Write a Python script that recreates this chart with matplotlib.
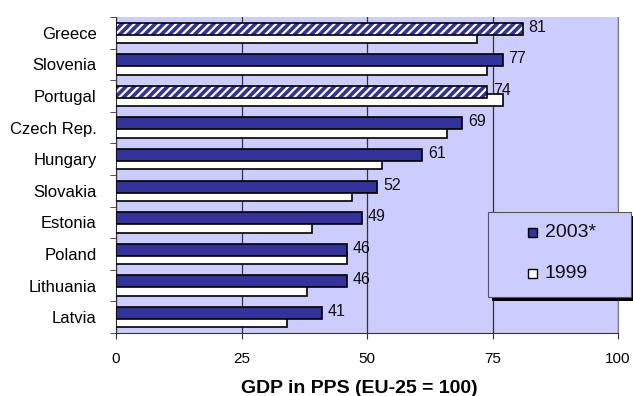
import matplotlib
matplotlib.use("Agg")
import matplotlib.pyplot as plt
from matplotlib.patches import Rectangle
import numpy as np

plt.rcParams['font.family'] = ['Liberation Sans', 'DejaVu Sans']
plt.rcParams['hatch.linewidth'] = 1.6

countries = ["Greece", "Slovenia", "Portugal", "Czech Rep.", "Hungary",
             "Slovakia", "Estonia", "Poland", "Lithuania", "Latvia"]
gdp_2003 = [81, 77, 74, 69, 61, 52, 49, 46, 46, 41]
gdp_1999 = [72, 74, 77, 66, 53, 47, 39, 46, 38, 34]
series_names = ["2003*", "1999"]
hatched = ["Greece", "Portugal"]
x_ticks = [0, 25, 50, 75, 100]

navy = "#333399"
lavender = "#CCCCFF"
W, H = 633, 396

fig = plt.figure(figsize=(W / 100, H / 100), dpi=100)
ax = fig.add_axes([116 / W, 1 - 333 / H, 502 / W, 316 / H])
ax.set_facecolor(lavender)

n = len(countries)
pos = np.arange(n)[::-1].astype(float)
bar_h = 0.38
shift = 0.13

ax.barh(pos - shift, gdp_1999, height=bar_h, color="white",
        edgecolor="black", linewidth=1.2, zorder=3)
for y, v, c in zip(pos, gdp_2003, countries):
    if c in hatched:
        ax.barh(y + shift, v, height=bar_h, color=navy, edgecolor="white",
                hatch="////", linewidth=0, zorder=4)
        ax.barh(y + shift, v, height=bar_h, fill=False, edgecolor="black",
                linewidth=1.2, zorder=5)
    else:
        ax.barh(y + shift, v, height=bar_h, color=navy, edgecolor="black",
                linewidth=1.2, zorder=4)
    ax.text(v + 1.2, y + shift + 0.05, str(v), va="center", ha="left",
            fontsize=11.5, color="#111111", zorder=6)

ax.set_xlim(0, 100)
ax.set_ylim(-0.5, n - 0.5)
ax.set_xticks(x_ticks)
ax.set_xticklabels([str(t) for t in x_ticks], fontsize=11)
ax.set_yticks(pos)
ax.set_yticklabels(countries, fontsize=12)
ax.tick_params(axis="y", length=0, pad=14)
ax.set_yticks(np.arange(-0.5, n, 1.0), minor=True)
ax.tick_params(axis="y", which="minor", length=4, direction="out", color="#333333")
ax.tick_params(axis="x", length=4, direction="out", color="#333333", pad=10)

ax.xaxis.grid(True, color="#333333", linewidth=0.9, zorder=1)
ax.set_axisbelow(True)
ax.spines["top"].set_visible(False)
ax.spines["right"].set_color("#777777")
ax.spines["left"].set_color("#333333")
ax.spines["bottom"].set_color("#333333")

ax.set_xlabel("GDP in PPS (EU-25 = 100)", fontsize=14, fontweight="bold")
ax.xaxis.set_label_coords(0.484, -0.148)


def fx(px):
    return px / W


def fy(py):
    return 1 - py / H


# legend box with a solid drop shadow
lx0, lx1, ly0, ly1 = 488, 631, 212, 297
fig.add_artist(Rectangle((fx(lx0 + 4), fy(ly1 + 4)), fx(lx1 - lx0), (ly1 - ly0) / H,
                         transform=fig.transFigure, facecolor="black",
                         edgecolor="none", zorder=20))
fig.add_artist(Rectangle((fx(lx0), fy(ly1)), fx(lx1 - lx0), (ly1 - ly0) / H,
                         transform=fig.transFigure, facecolor=lavender,
                         edgecolor="#555555", linewidth=0.8, zorder=21))
swatches = [navy, "white"]
rows = [233, 273]
for name, col, ry in zip(series_names, swatches, rows):
    fig.add_artist(Rectangle((fx(528), fy(ry + 4.5)), 9 / W, 9 / H,
                             transform=fig.transFigure, facecolor=col,
                             edgecolor="black", linewidth=1.0, zorder=22))
    fig.text(fx(545), fy(ry), name, fontsize=14, va="center", ha="left",
             color="#111111", zorder=23)

fig.savefig("out.png", dpi=100)
